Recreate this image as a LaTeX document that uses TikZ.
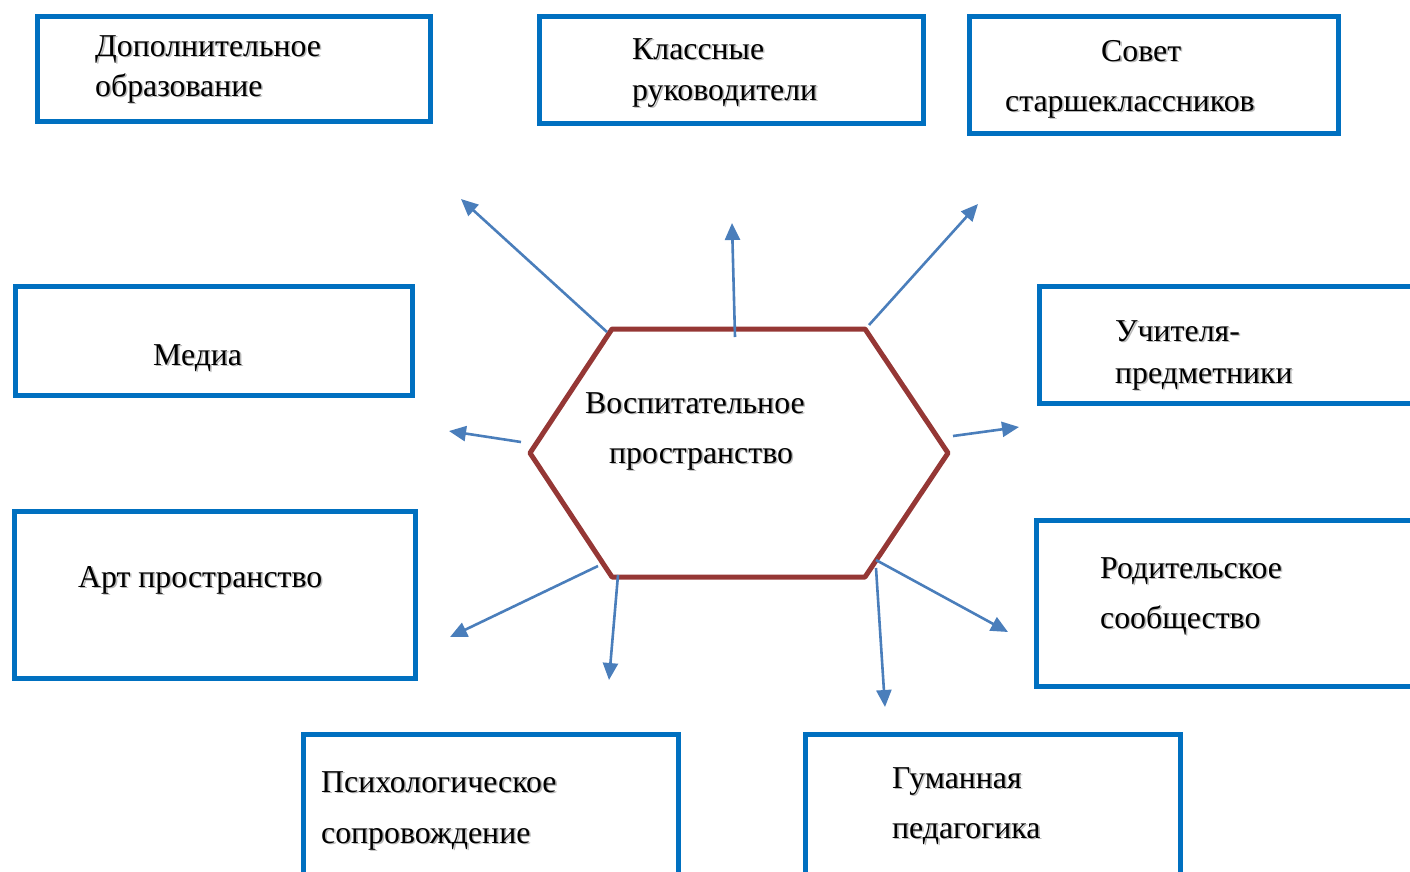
\documentclass[tikz,border=0pt]{standalone}
\usepackage{fontspec}
\setmainfont{Liberation Serif}
\usetikzlibrary{arrows.meta}
\definecolor{boxblue}{HTML}{0070C0}
\definecolor{arrblue}{HTML}{4A7EBB}
\definecolor{hexred}{HTML}{953735}
\newcommand\shlabel[4]{%
  \node[lbl, text=black!28, xshift=1.6pt, yshift=-1.8pt] at (#2,#3) {#4};
  \node[lbl] (#1) at (#2,#3) {#4};}
\begin{document}
\begin{tikzpicture}[x=1pt,y=-1pt,
  boxst/.style={draw=boxblue, line width=5pt, minimum width=#1, inner sep=0pt, outer sep=0pt, anchor=north west},
  lbl/.style={anchor=base west, inner sep=0pt, font=\fontsize{31.8}{38}\selectfont},
  hexst/.style={draw=hexred, line width=5pt, line join=round},
  arr/.style={draw=arrblue, line width=2.6pt, -{Triangle[length=17pt,width=15pt]}}]
\useasboundingbox (0,0) rectangle (1410,871);
% boxes
\node[boxst=393pt, minimum height=105pt] (b1) at (37.5,16.5) {};
\node[boxst=384pt, minimum height=107pt] (b2) at (539.5,16.5) {};
\node[boxst=369pt, minimum height=117pt] (b3) at (969.5,16.5) {};
\node[boxst=397pt, minimum height=109pt] (b4) at (15.5,286.5) {};
\node[boxst=395pt, minimum height=117pt] (b5) at (1039.5,286.5) {};
\node[boxst=401pt, minimum height=167pt] (b6) at (14.5,511.5) {};
\node[boxst=395pt, minimum height=166pt] (b7) at (1036.5,520.5) {};
\node[boxst=375pt, minimum height=160pt] (b8) at (303.5,734.5) {};
\node[boxst=375pt, minimum height=160pt] (b9) at (805.5,734.5) {};
% hexagon
\coordinate (h1) at (612,329);
\coordinate (h2) at (865,329);
\coordinate (h3) at (948,453);
\coordinate (h4) at (865,577);
\coordinate (h5) at (612,577);
\coordinate (h6) at (530,453);
\draw[hexst] (h1) -- (h2) -- (h3) -- (h4) -- (h5) -- (h6) -- cycle;
% labels
\shlabel{t1a}{95}{56}{Дополнительное}
\shlabel{t1b}{95}{96}{образование}
\shlabel{t2a}{632}{59}{Классные}
\shlabel{t2b}{632}{100}{руководители}
\shlabel{t3a}{1101}{61}{Совет}
\shlabel{t3b}{1005}{111}{старшеклассников}
\shlabel{t4}{153}{365}{Медиа}
\shlabel{t5a}{1115}{341}{Учителя-}
\shlabel{t5b}{1115}{383}{предметники}
\shlabel{t6}{78}{587}{Арт пространство}
\shlabel{t7a}{1100}{578}{Родительское}
\shlabel{t7b}{1100}{628}{сообщество}
\shlabel{t8a}{321}{792}{Психологическое}
\shlabel{t8b}{321}{843}{сопровождение}
\shlabel{t9a}{892}{788}{Гуманная}
\shlabel{t9b}{892}{838}{педагогика}
\shlabel{c1}{585}{413}{Воспитательное}
\shlabel{c2}{609}{463}{пространство}
% arrows
\coordinate (s1) at (607,332); \coordinate (e1) at (461,199);
\coordinate (s2) at (735,337); \coordinate (e2) at (732,223);
\coordinate (s3) at (869,325); \coordinate (e3) at (978,204);
\coordinate (s4) at (521,442); \coordinate (e4) at (449,431);
\coordinate (s5) at (953,436); \coordinate (e5) at (1019,427);
\coordinate (s6) at (598,566); \coordinate (e6) at (450,637);
\coordinate (s7) at (618,575); \coordinate (e7) at (609,680);
\coordinate (s8) at (876,560); \coordinate (e8) at (1008,632);
\coordinate (s9) at (876,568); \coordinate (e9) at (885,707);
\foreach \i in {1,...,9} {\draw[arr] (s\i) -- (e\i);}
\end{tikzpicture}
\end{document}
